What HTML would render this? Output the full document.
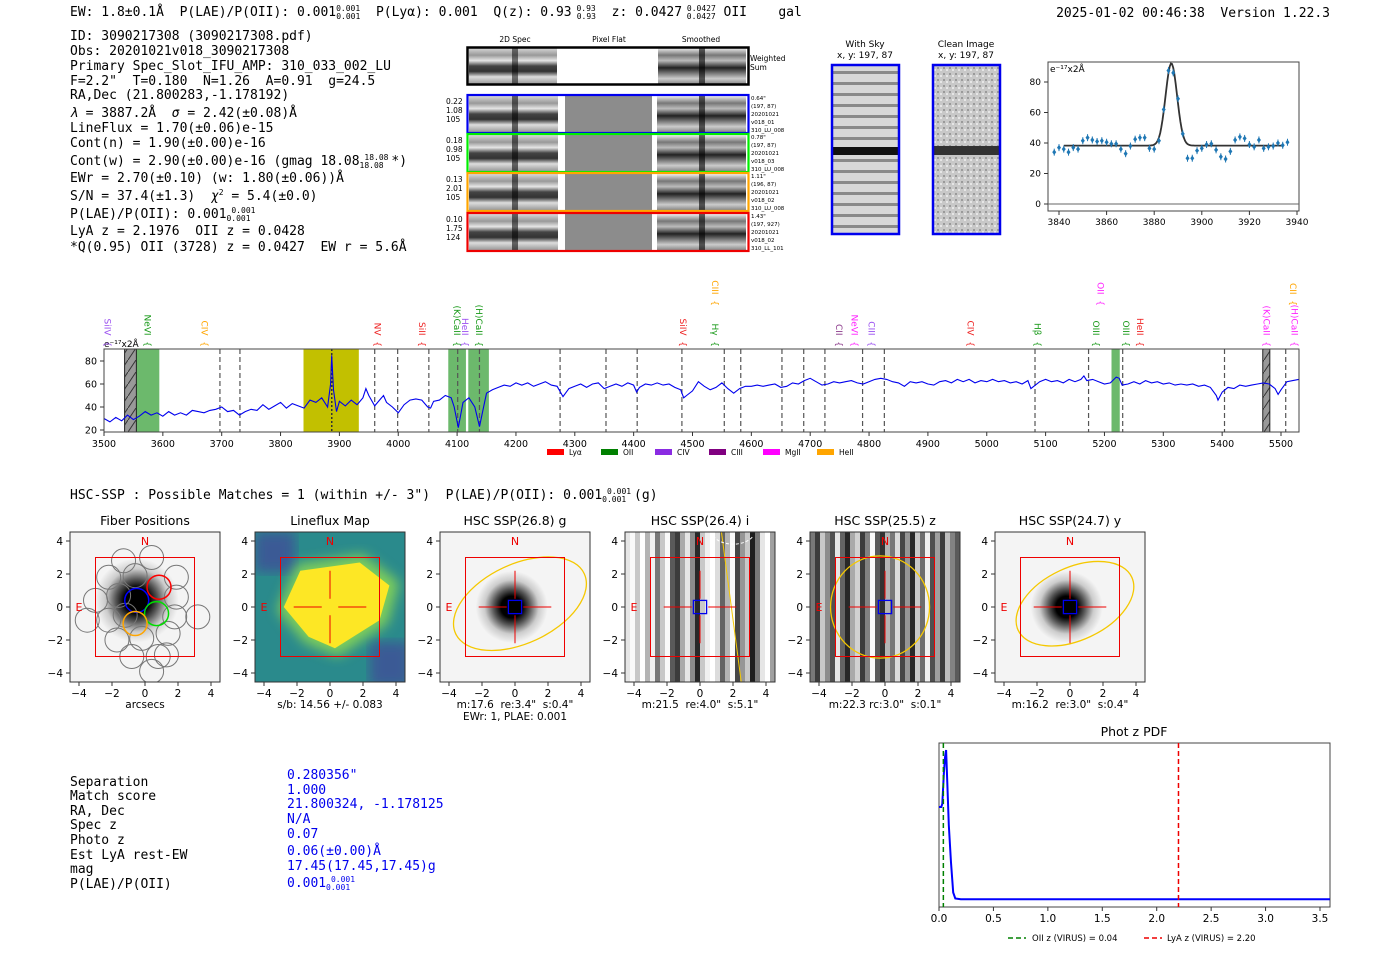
<!DOCTYPE html>
<html><head><meta charset="utf-8"><style>
body{margin:0;background:#fff}
svg{display:block}
text{font-family:"DejaVu Sans","Liberation Sans",sans-serif;white-space:pre}
svg text.mono, svg .mono text{font-family:"DejaVu Sans Mono","Liberation Mono",monospace}
</style></head><body>
<svg id="root" width="1400" height="953" viewBox="0 0 1400 953" xmlns="http://www.w3.org/2000/svg" xml:space="preserve">
<defs>
<linearGradient id="bandA" x1="0" y1="0" x2="0" y2="1">
<stop offset="0" stop-color="#d8d8d8"/><stop offset="0.2" stop-color="#999"/><stop offset="0.35" stop-color="#e6e6e6"/><stop offset="0.5" stop-color="#444"/><stop offset="0.65" stop-color="#333"/><stop offset="0.8" stop-color="#ddd"/><stop offset="1" stop-color="#999"/>
</linearGradient>
<linearGradient id="bandB" x1="0" y1="0" x2="0" y2="1">
<stop offset="0" stop-color="#eee"/><stop offset="0.2" stop-color="#777"/><stop offset="0.35" stop-color="#bbb"/><stop offset="0.55" stop-color="#222"/><stop offset="0.7" stop-color="#777"/><stop offset="0.85" stop-color="#ccc"/><stop offset="1" stop-color="#888"/>
</linearGradient>
<pattern id="skyStripes" width="68" height="11" patternUnits="userSpaceOnUse">
<rect width="68" height="11" fill="#d8d8d8"/><rect y="5" width="68" height="3" fill="#8a8a8a"/>
</pattern>
<pattern id="cleanNoise" width="6" height="6" patternUnits="userSpaceOnUse">
<rect width="6" height="6" fill="#c8c8c8"/><rect x="1" y="1" width="2" height="2" fill="#9a9a9a"/><rect x="4" y="3" width="2" height="2" fill="#e6e6e6"/>
</pattern>
<radialGradient id="blob" cx="0.5" cy="0.5" r="0.5">
<stop offset="0" stop-color="#000"/><stop offset="0.3" stop-color="#000"/><stop offset="0.5" stop-color="#555"/><stop offset="0.75" stop-color="#ccc"/><stop offset="1" stop-color="#f4f4f4"/>
</radialGradient>
<pattern id="hatch" width="8" height="12" patternUnits="userSpaceOnUse">
<rect width="8" height="12" fill="#999"/><line x1="0" y1="12" x2="8" y2="0" stroke="#333" stroke-width="1"/>
</pattern>
<filter id="blur3"><feGaussianBlur stdDeviation="6"/></filter>
</defs>

<text class="mono" x="70" y="16" font-size="13">EW: 1.8±0.1Å  P(LAE)/P(OII): 0.001<tspan font-size="8" dy="-5">0.001</tspan><tspan font-size="8" dx="-24" dy="8">0.001</tspan><tspan dy="-3">  P(Lyα): 0.001  Q(z): 0.93</tspan><tspan font-size="8" dy="-5"> 0.93</tspan><tspan font-size="8" dx="-19" dy="8">0.93</tspan><tspan dy="-3">  z: 0.0427</tspan><tspan font-size="8" dy="-5"> 0.0427</tspan><tspan font-size="8" dx="-29" dy="8">0.0427</tspan><tspan dy="-3"> OII    gal</tspan></text>
<text class="mono" x="1330" y="17" font-size="13" text-anchor="end">2025-01-02 00:46:38  Version 1.22.3</text>

<g class="mono" font-size="13">
<text x="70" y="40">ID: 3090217308 (3090217308.pdf)</text>
<text x="70" y="55">Obs: 20201021v018_3090217308</text>
<text x="70" y="70">Primary Spec_Slot_IFU_AMP: 310_033_002_LU</text>
<text x="70" y="85">F=2.2"  T=0.180  N=1.26  A=0.91  g=24.5</text>
<text x="70" y="99">RA,Dec (21.800283,-1.178192)</text>
<text x="70" y="117"><tspan font-style="italic">λ</tspan> = 3887.2Å  <tspan font-style="italic">σ</tspan> = 2.42(±0.08)Å</text>
<text x="70" y="132">LineFlux = 1.70(±0.06)e-15</text>
<text x="70" y="147">Cont(n) = 1.90(±0.00)e-16</text>
<text x="70" y="165">Cont(w) = 2.90(±0.00)e-16 (gmag 18.08<tspan font-size="8" dy="-5"> 18.08</tspan><tspan font-size="8" dx="-29" dy="8">18.08</tspan><tspan dy="-3"> *)</tspan></text>
<text x="70" y="182">EWr = 2.70(±0.10) (w: 1.80(±0.06))Å</text>
<text x="70" y="200">S/N = 37.4(±1.3)  <tspan font-style="italic">χ</tspan><tspan font-size="8" dy="-5">2</tspan><tspan dy="5"> = 5.4(±0.0)</tspan></text>
<text x="70" y="218">P(LAE)/P(OII): 0.001<tspan font-size="8" dy="-5"> 0.001</tspan><tspan font-size="8" dx="-29" dy="8">0.001</tspan></text>
<text x="70" y="235">LyA z = 2.1976  OII z = 0.0428</text>
<text x="70" y="251">*Q(0.95) OII (3728) z = 0.0427  EW r = 5.6Å</text>
</g>

<g font-size="7.5">
<text x="515" y="42" text-anchor="middle">2D Spec</text>
<text x="609" y="42" text-anchor="middle">Pixel Flat</text>
<text x="701" y="42" text-anchor="middle">Smoothed</text>
<rect x="469" y="48" width="88" height="36" fill="url(#bandA)"/>
<rect x="658" y="48" width="88" height="36" fill="url(#bandB)"/>
<rect x="512" y="48" width="6" height="36" fill="#000" opacity="0.5"/>
<rect x="699" y="48" width="6" height="36" fill="#000" opacity="0.6"/>
<rect x="467.5" y="47.5" width="281" height="37" fill="none" stroke="#000" stroke-width="2.5"/>
<text x="750" y="61">Weighted</text><text x="750" y="70">Sum</text>
<g id="specRows"></g>
</g>

<g font-size="9">
<text x="865" y="47" text-anchor="middle">With Sky</text>
<text x="865" y="58" text-anchor="middle">x, y: 197, 87</text>
<rect x="832" y="65" width="67" height="169" fill="url(#skyStripes)"/>
<rect x="832" y="147" width="67" height="8" fill="#111"/>
<rect x="832" y="65" width="67" height="169" fill="none" stroke="#0000ee" stroke-width="2.5"/>
<text x="966" y="47" text-anchor="middle">Clean Image</text>
<text x="966" y="58" text-anchor="middle">x, y: 197, 87</text>
<rect x="933" y="65" width="67" height="169" fill="url(#cleanNoise)"/>
<rect x="933" y="146" width="67" height="9" fill="#333"/>
<rect x="933" y="65" width="67" height="169" fill="none" stroke="#0000ee" stroke-width="2.5"/>
</g>

<g id="fitChart"></g>
<g id="specChart"></g>

<text class="mono" x="70" y="499" font-size="13">HSC-SSP : Possible Matches = 1 (within +/- 3")  P(LAE)/P(OII): 0.001<tspan font-size="8" dy="-5"> 0.001</tspan><tspan font-size="8" dx="-29" dy="8">0.001</tspan><tspan dy="-3"> (g)</tspan></text>

<g id="panels"></g>

<g class="mono" font-size="13">
<text x="70" y="786">Separation</text><text x="287" y="779" fill="#0000ee">0.280356"</text>
<text x="70" y="800">Match score</text><text x="287" y="794" fill="#0000ee">1.000</text>
<text x="70" y="815">RA, Dec</text><text x="287" y="808" fill="#0000ee">21.800324, -1.178125</text>
<text x="70" y="829">Spec z</text><text x="287" y="823" fill="#0000ee">N/A</text>
<text x="70" y="844">Photo z</text><text x="287" y="838" fill="#0000ee">0.07</text>
<text x="70" y="859">Est LyA rest-EW</text><text x="287" y="855" fill="#0000ee">0.06(±0.00)Å</text>
<text x="70" y="873">mag</text><text x="287" y="870" fill="#0000ee">17.45(17.45,17.45)g</text>
<text x="70" y="888">P(LAE)/P(OII)</text><text x="287" y="887" fill="#0000ee">0.001<tspan font-size="8" dy="-5"> 0.001</tspan><tspan font-size="8" dx="-29" dy="8">0.001</tspan></text>
</g>

<g id="pdfChart"></g>
</svg>

<script>
// ---------- line fit data ----------
const fitWave = [3838,3840,3842,3844,3846,3848,3850,3852,3854,3856,3858,3860,3862,3864,3866,3868,3870,3872,3874,3876,3878,3880,3882,3884,3886,3888,3890,3892,3894,3896,3898,3900,3902,3904,3906,3908,3910,3912,3914,3916,3918,3920,3922,3924,3926,3928,3930,3932,3934,3936];
const fitFlux = [34,37,36,34,37,36,41.5,43.5,42,41,41.5,40.5,39.5,39.5,36,33,38,42.5,43.5,43.5,36.5,36,41.5,62,87.5,86,69,46,30,30,35,36.5,39,39.5,35.5,31,29.5,34.5,42,44,43,39,37.5,42,36.5,37.5,38,40,38.5,40.5];
const fitParams = [3887.2, 2.42, 54, 38.3]; // center, sigma, amplitude, continuum
const fitXTicks = [3840,3860,3880,3900,3920,3940];
const fitYTicks = [0,20,40,60,80];

// ---------- spectrum data ----------
const specWave = [3500,3510,3520,3530,3540,3550,3560,3570,3580,3590,3600,3610,3620,3630,3640,3650,3660,3670,3680,3690,3700,3710,3720,3730,3740,3750,3760,3770,3780,3790,3800,3810,3820,3830,3840,3850,3860,3870,3880,3885,3887,3890,3895,3900,3910,3920,3930,3940,3945,3950,3960,3970,3975,3980,3990,4000,4010,4020,4030,4040,4050,4055,4060,4070,4080,4090,4095,4102,4110,4120,4130,4138,4145,4150,4160,4170,4180,4190,4200,4210,4220,4230,4240,4250,4260,4270,4280,4290,4300,4310,4320,4330,4340,4350,4360,4370,4380,4390,4400,4405,4410,4420,4430,4440,4450,4460,4470,4480,4485,4490,4500,4510,4520,4530,4540,4550,4560,4570,4580,4590,4600,4610,4620,4630,4640,4650,4660,4670,4680,4690,4700,4710,4720,4730,4740,4750,4760,4770,4780,4790,4800,4810,4820,4830,4840,4850,4860,4870,4880,4890,4900,4910,4920,4930,4940,4950,4960,4970,4980,4990,5000,5010,5020,5030,5040,5050,5060,5070,5075,5080,5090,5100,5110,5120,5130,5140,5150,5160,5165,5170,5180,5190,5200,5210,5220,5225,5230,5240,5250,5260,5270,5280,5290,5300,5310,5320,5330,5340,5350,5360,5370,5380,5390,5393,5400,5410,5420,5430,5440,5450,5460,5470,5480,5490,5495,5500,5510,5520,5530];
const specFlux = [30,27,31,28,33,29,32,36,33,35,32,36,33,35,33,37,36,35,37,38,40,36,37,33,36,38,37,42,38,41,44,39,43,41,39,46,44,48,40,60,85,55,36,45,41,46,42,48,56,50,41,47,50,44,40,35,42,46,47,46,40,39,45,46,50,48,40,22,44,48,40,23,40,52,55,57,59,58,61,59,61,58,60,62,59,58,49,56,58,60,57,60,61,56,58,60,58,61,59,53,57,60,59,61,59,60,57,55,48,50,54,62,58,55,57,61,56,52,56,58,58,59,58,59,60,57,58,61,60,63,65,62,59,60,62,61,62,63,61,60,62,64,65,64,62,61,58,62,61,62,60,59,62,63,61,64,62,64,61,63,62,64,62,63,61,62,60,63,56,58,62,64,62,63,61,64,62,64,67,63,64,62,60,61,66,65,59,60,62,60,63,61,62,60,61,59,60,59,60,58,59,57,50,46,53,57,56,59,58,59,60,61,60,56,51,55,62,63,64];
const specXTicks = [3500,3600,3700,3800,3900,4000,4100,4200,4300,4400,4500,4600,4700,4800,4900,5000,5100,5200,5300,5400,5500];
const specYTicks = [20,40,60,80];
const dashedLines = [3697,3731,3960,3999,4052,4101,4138,4275,4353,4406,4482,4554,4582,4652,4689,4725,4789,4826,5082,5173,5231,5404,5508];
const greenBands = [[3555,3594],[4085,4115],[4119,4154],[5212,5226]];
const grayBands = [[3535,3555],[5469,5481]];
const yellowBand = [3839,3933];
const lineNames = ["SiIV","NeVI","CIV","NV","SiII","(K)CaII","HeII","(H)CaII","SiIV","Hγ","CIII","CII","NeVI","CIII","CIV","Hβ","OIII","OII","OIII","HeII","(K)CaII","CII","(H)CaII"];
const lineWaves = [3506,3574,3671,3965,4040,4100,4113,4137,4484,4538,4538,4749,4775,4804,4972,5086,5186,5193,5237,5260,5475,5520,5523];
const lineColors = ["#9a4ff0","#1a9a1a","#ffa500","#ee2222","#ee2222","#1a9a1a","#9a4ff0","#1a9a1a","#ee2222","#1a9a1a","#ffa500","#8b3a8b","#ff22ff","#9a4ff0","#ee2222","#1a9a1a","#1a9a1a","#ff22ff","#1a9a1a","#ee2222","#ff22ff","#ffa500","#ff22ff"];
const lineRows = [0,0,0,0,0,0,0,0,0,0,1,0,0,0,0,0,0,1,0,0,0,1,0];
const legendNames = ["Lyα","OII","CIV","CIII","MgII","HeII"];
const legendColors = ["#ff0000","#008000","#8a2be2","#800080","#ff00ff","#ffa500"];

// ---------- phot z ----------
const pdfZ = [0,0.02,0.03,0.045,0.055,0.065,0.075,0.09,0.11,0.13,0.15,0.2,0.5,1,2,3,3.6];
const pdfP = [0.62,0.62,0.64,0.85,0.95,1.0,0.8,0.5,0.25,0.05,0.01,0.005,0.005,0.005,0.005,0.005,0.005];
const pdfXTicks = [0,0.5,1.0,1.5,2.0,2.5,3.0,3.5];
const oiiZ = 0.04, lyaZ = 2.20;

const NS = "http://www.w3.org/2000/svg";
function mk(parent, tag, attrs, txt){const e=document.createElementNS(NS,tag);for(const k in attrs)e.setAttribute(k,attrs[k]);if(txt!==undefined)e.textContent=txt;parent.appendChild(e);return e;}

(function(){
  const g=document.getElementById('specRows');
  const rows=[{y:95,c:"#0000ee",l:["0.22","1.08","105"],r:["0.64\"","(197, 87)","20201021","v018_01","310_LU_008"]},
              {y:134,c:"#00ee00",l:["0.18","0.98","105"],r:["0.78\"","(197, 87)","20201021","v018_03","310_LU_008"]},
              {y:173,c:"#ffa500",l:["0.13","2.01","105"],r:["1.11\"","(196, 87)","20201021","v018_02","310_LU_008"]},
              {y:213,c:"#ee0000",l:["0.10","1.75","124"],r:["1.43\"","(197, 927)","20201021","v018_02","310_LL_101"]}];
  rows.forEach((rw,i)=>{
    const a=mk(g,'rect',{x:469,y:rw.y+1,width:89,height:36,fill:'url(#bandA)'});
    
    
    mk(g,'rect',{x:512,y:rw.y+1,width:6,height:36,fill:'#000',opacity:0.55});
    mk(g,'rect',{x:565,y:rw.y+1,width:87,height:36,fill:'#8c8c8c'});
    mk(g,'rect',{x:657,y:rw.y+1,width:89,height:36,fill:'url(#bandB)'});
    mk(g,'rect',{x:699,y:rw.y+1,width:6,height:36,fill:'#000',opacity:0.6});
    const f=mk(g,'rect',{x:467.5,y:rw.y,width:281,height:38,fill:'none',stroke:rw.c,'stroke-width':2.2});
    
    
    rw.l.forEach((t,j)=>mk(g,'text',{x:446,y:rw.y+9+j*9,'font-size':7.5},t));
    rw.r.forEach((t,j)=>mk(g,'text',{x:751,y:rw.y+5+j*8,'font-size':5.5},t));
  });
})();

(function(){
  const g=document.getElementById('fitChart');
  const L=1048,R=1299,T=62,B=211;
  const sx=w=>1059+(w-3840)*(1297-1059)/100;
  const sy=v=>204-v*(204-82)/80;
  mk(g,'rect',{x:L,y:T,width:R-L,height:B-T,fill:'#fff',stroke:'#444','stroke-width':1});
  mk(g,'line',{x1:L,x2:R,y1:sy(0),y2:sy(0),stroke:'#666','stroke-width':1});
  fitXTicks.forEach(t=>{mk(g,'line',{x1:sx(t),x2:sx(t),y1:B,y2:B+4,stroke:'#333'});const e=mk(g,'text',{x:sx(t),y:B+14,'font-size':9,'text-anchor':'middle'},t);});
  fitYTicks.forEach(t=>{mk(g,'line',{x1:L-4,x2:L,y1:sy(t),y2:sy(t),stroke:'#333'});mk(g,'text',{x:L-7,y:sy(t)+3,'font-size':9,'text-anchor':'end'},t);});
  mk(g,'text',{x:L+2,y:T+10,'font-size':9},'e⁻¹⁷x2Å');
  let d='';
  for(let w=3842;w<=3934;w+=0.5){const v=fitParams[3]+fitParams[2]*Math.exp(-0.5*Math.pow((w-fitParams[0])/fitParams[1],2));d+=(d?'L':'M')+sx(w).toFixed(1)+','+sy(v).toFixed(1);}
  const fl=mk(g,'path',{d:d,fill:'none',stroke:'#333','stroke-width':1.8});
  
  
  fitWave.forEach((w,i)=>{
    const x=sx(w),y=sy(fitFlux[i]);
    mk(g,'line',{x1:x,x2:x,y1:y-3.5,y2:y+3.5,stroke:'#1f77b4','stroke-width':1});
    const p=mk(g,'path',{d:`M${x},${y-2.8}L${x+2},${y}L${x},${y+2.8}L${x-2},${y}Z`,fill:'#1f77b4'});
    
    
  });
})();

(function(){
  const g=document.getElementById('specChart');
  const L=104,R=1299,T=349,B=432;
  const sx=w=>104+(w-3500)*(1281-104)/2000;
  const sy=v=>430-(v-20)*(430-361)/60;
  mk(g,'rect',{x:L,y:T,width:R-L,height:B-T,fill:'#fff'});
  greenBands.forEach(b=>{const r=mk(g,'rect',{x:sx(b[0]),y:T,width:sx(b[1])-sx(b[0]),height:B-T,fill:'#6cb96c'});});
  grayBands.forEach(b=>{const r=mk(g,'rect',{x:sx(b[0]),y:T,width:sx(b[1])-sx(b[0]),height:B-T,fill:'url(#hatch)',stroke:'#222','stroke-width':1});});
  const yb=mk(g,'rect',{x:sx(yellowBand[0]),y:T,width:sx(yellowBand[1])-sx(yellowBand[0]),height:B-T,fill:'#c2c000'});
  
  
  dashedLines.forEach(w=>mk(g,'line',{x1:sx(w),x2:sx(w),y1:T,y2:B,stroke:'#555','stroke-width':1.2,'stroke-dasharray':'5,3'}));
  mk(g,'line',{x1:sx(3887),x2:sx(3887),y1:T,y2:B,stroke:'#333','stroke-width':1.5,'stroke-dasharray':'2,2'});
  let d='';
  specWave.forEach((w,i)=>{d+=(i?'L':'M')+sx(w).toFixed(1)+','+sy(specFlux[i]).toFixed(1);});
  const sp=mk(g,'path',{d:d,fill:'none',stroke:'#0000ee','stroke-width':1.1});
  
  
  mk(g,'rect',{x:L,y:T,width:R-L,height:B-T,fill:'none',stroke:'#444','stroke-width':1});
  specXTicks.forEach(t=>{mk(g,'line',{x1:sx(t),x2:sx(t),y1:B,y2:B+4,stroke:'#333'});const e=mk(g,'text',{x:sx(t),y:B+15,'font-size':9.5,'text-anchor':'middle'},t);});
  specYTicks.forEach(t=>{mk(g,'line',{x1:L-4,x2:L,y1:sy(t),y2:sy(t),stroke:'#333'});mk(g,'text',{x:L-7,y:sy(t)+3.5,'font-size':9.5,'text-anchor':'end'},t);});
  mk(g,'text',{x:L,y:T-2,'font-size':9},'e⁻¹⁷x2Å');
  lineNames.forEach((n,i)=>{
    const x=sx(lineWaves[i]);const yEnd=lineRows[i]?306:347;
    const t=mk(g,'text',{transform:`translate(${x-3},${yEnd}) rotate(90)`,'font-size':9,'text-anchor':'end',fill:lineColors[i]},n+'  {');
    
    
  });
  legendNames.forEach((n,i)=>{
    const x=547+i*54;
    const r=mk(g,'rect',{x:x,y:449,width:17,height:6,fill:legendColors[i]});
    
    
    mk(g,'text',{x:x+22,y:455,'font-size':7.5},n);
  });
})();

(function(){
  const g=document.getElementById('panels');
  const titles=["Fiber Positions","Lineflux Map","HSC SSP(26.8) g","HSC SSP(26.4) i","HSC SSP(25.5) z","HSC SSP(24.7) y"];
  const caps=[["arcsecs"],["s/b: 14.56 +/- 0.083"],["m:17.6  re:3.4\"  s:0.4\"","EWr: 1, PLAE: 0.001"],["m:21.5  re:4.0\"  s:5.1\""],["m:22.3 rc:3.0\"  s:0.1\""],["m:16.2  re:3.0\"  s:0.4\""]];
  const stripeI=[230,250,200,255,180,240,120,200,250,90,60,170,230,140,40,200,240,255,220,100,180,250,70,150,200,30,120,230,255,160];
  const stripeZ=[120,60,200,140,80,230,100,40,170,210,60,130,250,90,50,180,120,220,70,150,40,200,110,240,80,160,60,190,130,90];
  const fibers=[[-1.3,2.8],[0.4,3.0],[-2.2,1.8],[-0.6,1.9],[1.9,1.8],[-3.0,0.4],[-1.6,0.7],[1.9,0.6],[-2.2,-0.8],[-1.2,-0.5],[1.8,-0.6],[3.2,-0.6],[-3.5,-0.8],[-1.7,-2.0],[-0.2,-1.9],[1.4,-1.6],[-0.8,-3.0],[0.8,-3.0],[1.3,-2.9],[0.4,-3.9]];
  for(let p=0;p<6;p++){
    const L=70+p*185,T=532,S=150;
    const cx=L+S/2, cy=T+S/2, u=16.5;
    const sg=mk(g,'g',{});
    
    
    mk(sg,'text',{x:cx,y:T-7,'font-size':12.5,'text-anchor':'middle'},titles[p]);
    const cp=mk(sg,'clipPath',{id:'cp'+p});
    mk(cp,'rect',{x:L,y:T,width:S,height:S});
    const ig=mk(sg,'g',{'clip-path':`url(#cp${p})`});
    if(p==0||p==2||p==5){
      mk(ig,'rect',{x:L,y:T,width:S,height:S,fill:'#f4f4f4'});
      const bx=p==0?cx-0.5*u:cx-0.2*u, by=p==0?cy-0.4*u:cy;
      mk(ig,'circle',{cx:bx,cy:by,r:p==0?42:36,fill:'url(#blob)'});
    } else if(p==1){
      mk(ig,'rect',{x:L,y:T,width:S,height:S,fill:'#2a8a8c'});
      mk(ig,'rect',{x:L,y:T,width:40,height:40,fill:'#3a5a95',filter:'url(#blur3)'});
      mk(ig,'rect',{x:L+S-35,y:T+S-40,width:40,height:45,fill:'#3a5a95',filter:'url(#blur3)'});
      mk(ig,'polygon',{points:`${cx-3.2*u},${cy+0.2*u} ${cx-2*u},${cy-2.6*u} ${cx+2*u},${cy-3.2*u} ${cx+4.2*u},${cy-1.5*u} ${cx+3.5*u},${cy+1*u} ${cx+0.5*u},${cy+3*u} ${cx-1.5*u},${cy+2.2*u}`,fill:'#7fcf5a',filter:'url(#blur3)'});
      mk(ig,'polygon',{points:`${cx-2.8*u},${cy} ${cx-1.8*u},${cy-2.2*u} ${cx+1.8*u},${cy-2.7*u} ${cx+3.6*u},${cy-1.3*u} ${cx+3*u},${cy+0.8*u} ${cx+0.3*u},${cy+2.5*u} ${cx-1.3*u},${cy+1.8*u}`,fill:'#fde725'});
    } else {
      const arr=p==3?stripeI:stripeZ;const w=S/arr.length;
      arr.forEach((v,i)=>mk(ig,'rect',{x:L+i*w,y:T,width:w+0.5,height:S,fill:`rgb(${v},${v},${v})`}));
    }
    if(p==0){
      fibers.forEach(f=>mk(ig,'circle',{cx:cx+f[0]*u,cy:cy-f[1]*u,r:12,fill:'none',stroke:'#777','stroke-width':1}));
      [[-0.5,0.4,'#0000ff'],[0.85,1.2,'#ff0000'],[0.7,-0.4,'#00dd00'],[-0.6,-1.0,'#ffa500']].forEach(f=>mk(ig,'circle',{cx:cx+f[0]*u,cy:cy-f[1]*u,r:12,fill:'none',stroke:f[2],'stroke-width':1.5}));
    }
    if(p==2||p==5) mk(ig,'ellipse',{cx:cx+0.3*u,cy:cy-0.2*u,rx:p==2?4.3*u:3.8*u,ry:p==2?2.4*u:2.2*u,transform:`rotate(-25 ${cx+0.3*u} ${cy-0.2*u})`,fill:'none',stroke:'#f5c800','stroke-width':1.3});
    if(p==4) mk(ig,'ellipse',{cx:cx-0.3*u,cy:cy,rx:3*u,ry:3.1*u,fill:'none',stroke:'#f5c800','stroke-width':1.3});
    if(p==3){mk(ig,'line',{x1:cx+1.3*u,y1:T,x2:cx+2.5*u,y2:T+S,stroke:'#f5c800','stroke-width':1});mk(ig,'path',{d:`M${cx+0.8*u},${T+4} a22,14 0 0 0 40,0`,fill:'none',stroke:'#fff','stroke-dasharray':'3,2'});}
    mk(ig,'rect',{x:cx-3*u,y:cy-3*u,width:6*u,height:6*u,fill:'none',stroke:'#ee0000','stroke-width':1});
    if(p!=0){
      mk(ig,'line',{x1:cx-2.2*u,x2:cx-0.5*u,y1:cy,y2:cy,stroke:'#ee0000'});mk(ig,'line',{x1:cx+0.5*u,x2:cx+2.2*u,y1:cy,y2:cy,stroke:'#ee0000'});
      mk(ig,'line',{x1:cx,x2:cx,y1:cy-2.2*u,y2:cy-0.5*u,stroke:'#ee0000'});mk(ig,'line',{x1:cx,x2:cx,y1:cy+0.5*u,y2:cy+2.2*u,stroke:'#ee0000'});
    }
    if(p>=2) mk(ig,'rect',{x:cx-0.4*u,y:cy-0.4*u,width:0.8*u,height:0.8*u,fill:'none',stroke:'#0000ee','stroke-width':1.3});
    mk(ig,'text',{x:cx,y:T+13,'font-size':11,fill:'#ee0000','text-anchor':'middle'},'N');
    mk(ig,'text',{x:cx-4*u,y:cy+4,'font-size':11,fill:'#ee0000','text-anchor':'middle'},'E');
    mk(sg,'rect',{x:L,y:T,width:S,height:S,fill:'none',stroke:'#333','stroke-width':1});
    [-4,-2,0,2,4].forEach(t=>{
      const lbl=t<0?'−'+(-t):String(t);
      mk(sg,'line',{x1:cx+t*u,x2:cx+t*u,y1:T+S,y2:T+S+4,stroke:'#333'});
      mk(sg,'text',{x:cx+t*u,y:T+S+15,'font-size':10.5,'text-anchor':'middle'},lbl);
      mk(sg,'line',{x1:L-4,x2:L,y1:cy-t*u,y2:cy-t*u,stroke:'#333'});
      mk(sg,'text',{x:L-7,y:cy-t*u+4,'font-size':10.5,'text-anchor':'end'},lbl);
    });
    caps[p].forEach((c,j)=>mk(sg,'text',{x:cx,y:T+S+26+j*12,'font-size':10.5,'text-anchor':'middle'},c));
  }
})();

(function(){
  const g=document.getElementById('pdfChart');
  const L=939,R=1330,T=743,B=907;
  const sx=z=>939+z*(1320-939)/3.5;
  const sy=p=>900-p*(900-750);
  mk(g,'text',{x:1134,y:736,'font-size':12.5,'text-anchor':'middle'},'Phot z PDF');
  mk(g,'rect',{x:L,y:T,width:R-L,height:B-T,fill:'#fff',stroke:'#444'});
  let d='';pdfZ.forEach((z,i)=>{d+=(i?'L':'M')+Math.min(sx(z),R).toFixed(1)+','+sy(pdfP[i]).toFixed(1);});
  const pl=mk(g,'path',{d:d,fill:'none',stroke:'#0000ff','stroke-width':2});
  
  
  const gl=mk(g,'line',{x1:sx(oiiZ),x2:sx(oiiZ),y1:T,y2:B,stroke:'#008000','stroke-width':1.5,'stroke-dasharray':'5,3'});
  
  
  const rl=mk(g,'line',{x1:sx(lyaZ),x2:sx(lyaZ),y1:T,y2:B,stroke:'#ee0000','stroke-width':1.5,'stroke-dasharray':'5,3'});
  
  
  pdfXTicks.forEach(t=>{mk(g,'line',{x1:sx(t),x2:sx(t),y1:B,y2:B+4,stroke:'#333'});mk(g,'text',{x:sx(t),y:B+15,'font-size':10.5,'text-anchor':'middle'},t.toFixed(1));});
  mk(g,'line',{x1:1008,x2:1026,y1:938,y2:938,stroke:'#008000','stroke-width':1.5,'stroke-dasharray':'5,3'});
  mk(g,'text',{x:1032,y:941,'font-size':8.5},'OII z (VIRUS) = 0.04');
  mk(g,'line',{x1:1144,x2:1162,y1:938,y2:938,stroke:'#ee0000','stroke-width':1.5,'stroke-dasharray':'5,3'});
  mk(g,'text',{x:1167,y:941,'font-size':8.5},'LyA z (VIRUS) = 2.20');
})();
</script>
</body></html>
